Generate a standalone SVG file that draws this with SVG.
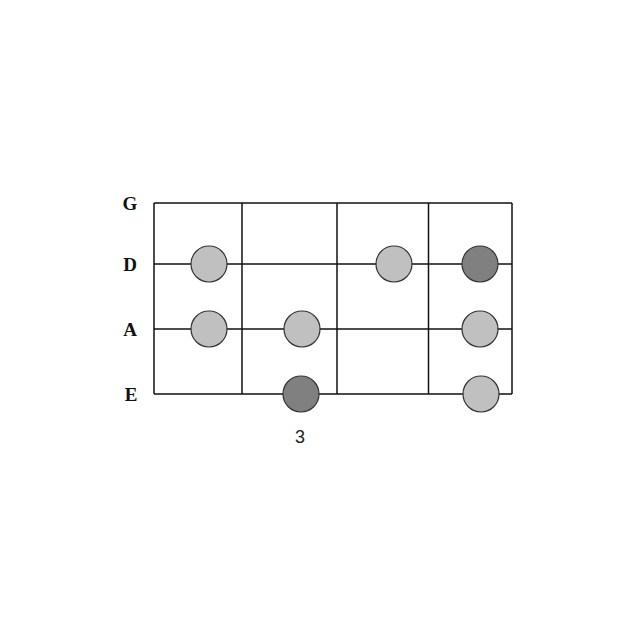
<svg xmlns="http://www.w3.org/2000/svg" width="630" height="630" viewBox="0 0 630 630">
<style>
.ln{stroke:#111;stroke-width:1.5;fill:none}
.lbl{font-family:"Liberation Serif",serif;font-weight:bold;font-size:19px;fill:#111;text-anchor:middle}
.num{font-family:"Liberation Sans",sans-serif;font-size:18px;fill:#222;text-anchor:middle}
.n{stroke:#333;stroke-width:1.2}
.lt{fill:#c0c0c0}
.dk{fill:#808080}
</style>
<rect width="630" height="630" fill="#fff"/>
<g id="grid">
<line class="ln" x1="154" y1="203" x2="512" y2="203"/>
<line class="ln" x1="154" y1="264" x2="512" y2="264"/>
<line class="ln" x1="154" y1="329" x2="512" y2="329"/>
<line class="ln" x1="154" y1="394" x2="512" y2="394"/>
<line class="ln" x1="154" y1="203" x2="154" y2="394"/>
<line class="ln" x1="242" y1="203" x2="242" y2="394"/>
<line class="ln" x1="337" y1="203" x2="337" y2="394"/>
<line class="ln" x1="428.5" y1="203" x2="428.5" y2="394"/>
<line class="ln" x1="512" y1="203" x2="512" y2="394"/>
</g>
<g id="labels">
<text class="lbl" x="130" y="210">G</text>
<text class="lbl" x="130" y="271">D</text>
<text class="lbl" x="130" y="336">A</text>
<text class="lbl" x="131" y="401">E</text>
<text class="num" x="300" y="443">3</text>
</g>
<g id="n1"><circle class="n lt" cx="209" cy="264" r="18"/></g>
<g id="n2"><circle class="n lt" cx="209" cy="329" r="18"/></g>
<g id="n3"><circle class="n lt" cx="302" cy="329" r="18"/></g>
<g id="n4"><circle class="n dk" cx="301" cy="394" r="18"/></g>
<g id="n5"><circle class="n lt" cx="394" cy="264" r="18"/></g>
<g id="n6"><circle class="n dk" cx="480" cy="264" r="18"/></g>
<g id="n7"><circle class="n lt" cx="480" cy="329" r="18"/></g>
<g id="n8"><circle class="n lt" cx="481" cy="394" r="18"/></g>
</svg>
